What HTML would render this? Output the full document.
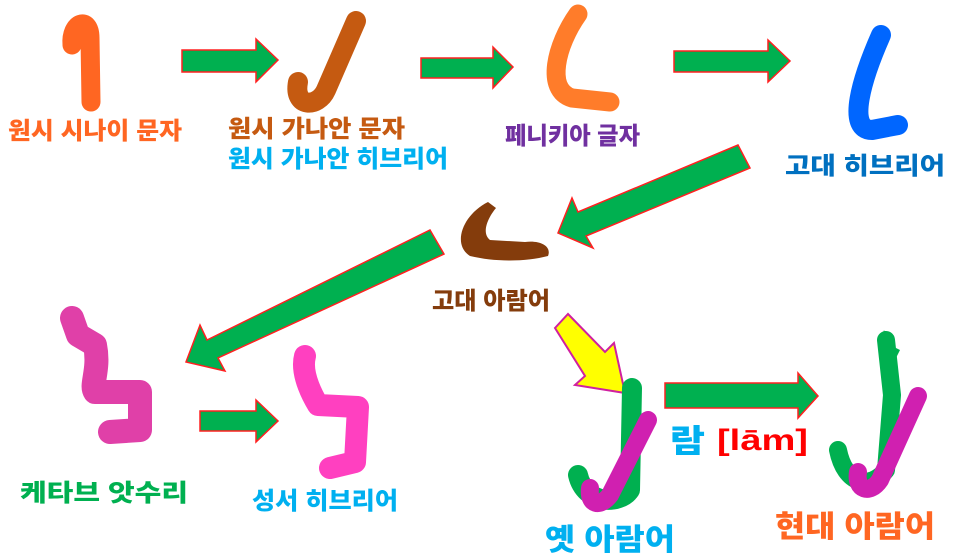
<!DOCTYPE html>
<html><head><meta charset="utf-8"><style>
html,body{margin:0;padding:0;background:#fff;width:960px;height:558px;overflow:hidden}
svg{display:block}
text{font-family:"Liberation Sans","Noto Sans CJK KR",sans-serif;font-weight:900}
</style></head><body>
<svg width="960" height="558" viewBox="0 0 960 558">
<g fill="#00b050" stroke="#ff2020" stroke-width="1.5">
<polygon points="182,50 256,50 256,39 278,60 256,82 256,72 182,72"/>
<polygon points="421,58 493,58 493,47 513,67 493,88 493,78 421,78"/>
<polygon points="674,51 768,51 768,40 790,61 768,82 768,72 674,72"/>
<polygon points="738,145 750,168 586,236 593,248 558,233 572,198 578,212"/>
<polygon points="430,230 444,254 218,358 225,371 186,362 200,325 207,340"/>
<polygon points="200,411 256,411 256,400 278,421 256,442 256,431 200,431"/>
<polygon points="665,383 798,383 798,373 818,396 798,418 798,408 665,408"/>
</g>
<polygon points="555,328 568,314 605,352 614,343 625,393 575,385 585,376" fill="#ffff00" stroke="#d020a0" stroke-width="2"/>
<g fill="none" stroke-linecap="round" stroke-linejoin="round">
<path d="M72,45 C70,22 90,15 90,38 L91,102" stroke="#ff6622" stroke-width="19"/>
<path d="M356,21 L326,90 C318,108 293,108 298,82" stroke="#c55a11" stroke-width="20"/>
<path d="M578,14 C556,45 545,90 572,98 L610,102" stroke="#ff7c2a" stroke-width="19"/>
<path d="M881,35 C862,78 846,130 872,130 L898,125" stroke="#0066ff" stroke-width="20"/>
<path d="M72,318 L78,335 L95,345 C100,370 90,385 95,392 L140,392 L140,430 L110,432" stroke="#e040a8" stroke-width="24"/>
<path d="M305,356 C300,375 315,400 318,405 L358,407 L355,462 L330,468" stroke="#ff40c0" stroke-width="22"/>
<path d="M632,388 L630,490 C620,505 585,505 578,475" stroke="#00b050" stroke-width="20"/>
<path d="M648,420 L610,495 C600,508 588,505 590,488" stroke="#d020b0" stroke-width="18"/>
<path d="M886,340 L892,395 L886,470 C870,490 845,485 838,450" stroke="#00b050" stroke-width="18"/>
<path d="M918,396 L880,480 C870,495 855,490 858,472" stroke="#d020b0" stroke-width="18"/>
</g>
<path d="M488,202 C462,215 452,245 470,256 C495,262 525,262 548,256 C552,246 540,240 525,242 L490,240 C480,232 490,215 496,208 Z" fill="#843c0c"/>
<path d="M880,345 L884,330 L890,345 L900,350 L895,360 Z" fill="#00b050"/>
<g lengthAdjust="spacingAndGlyphs">
<text x="8" y="139" font-size="24" fill="#ff6622" textLength="174" lengthAdjust="spacingAndGlyphs">원시 시나이 문자</text>
<text x="228" y="137" font-size="24" fill="#c55a11" textLength="177" lengthAdjust="spacingAndGlyphs">원시 가나안 문자</text>
<text x="228" y="167" font-size="24" fill="#00b0f0" textLength="220" lengthAdjust="spacingAndGlyphs">원시 가나안 히브리어</text>
<text x="505" y="144" font-size="24" fill="#7030a0" textLength="135" lengthAdjust="spacingAndGlyphs">페니키아 글자</text>
<text x="785" y="174" font-size="24" fill="#0070c0" textLength="160" lengthAdjust="spacingAndGlyphs">고대 히브리어</text>
<text x="432" y="309" font-size="24" fill="#843c0c" textLength="118" lengthAdjust="spacingAndGlyphs">고대 아람어</text>
<text x="20" y="501" font-size="24" fill="#00b050" textLength="168" lengthAdjust="spacingAndGlyphs">케타브 앗수리</text>
<text x="252" y="509" font-size="24" fill="#00b0f0" textLength="146" lengthAdjust="spacingAndGlyphs">성서 히브리어</text>
<text x="545" y="550" font-size="30" fill="#00b0f0" textLength="130" lengthAdjust="spacingAndGlyphs">옛 아람어</text>
<text x="775" y="537" font-size="30" fill="#ff6622" textLength="160" lengthAdjust="spacingAndGlyphs">현대 아람어</text>
<text x="670" y="452" font-size="32" fill="#00b0f0" textLength="35" lengthAdjust="spacingAndGlyphs">람</text>
<text x="717" y="450" font-size="30" fill="#ff0000" textLength="91" lengthAdjust="spacingAndGlyphs">[lām]</text>
</g>
</svg>
</body></html>
